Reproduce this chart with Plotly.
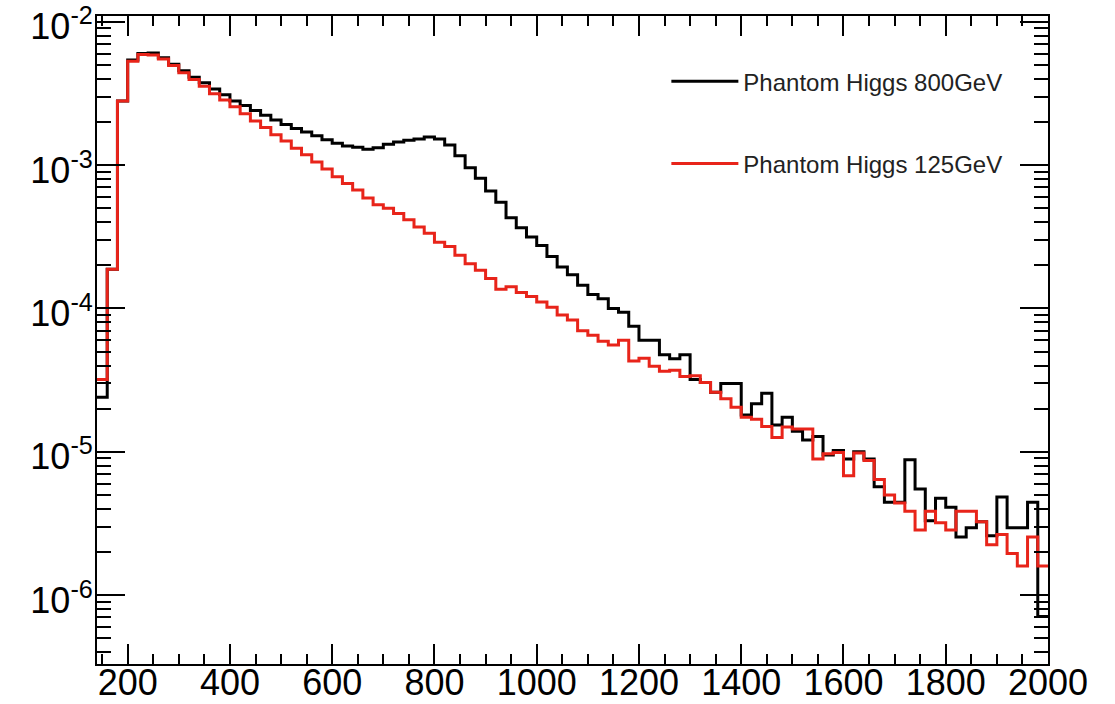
import plotly.graph_objects as go

# Histogram binning (GeV): 20 GeV bins from 140 to 2000
bin_edges = list(range(140, 2001, 20))

series_names = ["Phantom Higgs 800GeV", "Phantom Higgs 125GeV"]

# Phantom Higgs 800GeV (black)
higgs800 = [
    2.4e-5, 1.88e-4, 2.8e-3, 5.4e-3, 6.0e-3, 6.05e-3, 5.6e-3, 5.05e-3, 4.55e-3, 4.1e-3,
    3.75e-3, 3.4e-3, 3.1e-3, 2.8e-3, 2.6e-3, 2.4e-3, 2.23e-3, 2.06e-3, 1.92e-3, 1.8e-3,
    1.7e-3, 1.6e-3, 1.5e-3, 1.42e-3, 1.36e-3, 1.33e-3, 1.29e-3, 1.32e-3, 1.4e-3, 1.45e-3,
    1.49e-3, 1.52e-3, 1.57e-3, 1.52e-3, 1.38e-3, 1.16e-3, 9.6e-4, 8.1e-4, 6.6e-4,
    5.5e-4, 4.3e-4, 3.65e-4, 3.15e-4, 2.75e-4, 2.3e-4, 1.95e-4, 1.72e-4, 1.45e-4, 1.25e-4,
    1.17e-4, 1.0e-4, 9.4e-5, 7.5e-5, 6.0e-5, 6.0e-5, 4.75e-5, 4.45e-5, 4.75e-5, 3.2e-5,
    3.05e-5, 2.6e-5, 3.0e-5, 3.0e-5, 1.81e-5, 2.16e-5, 2.56e-5, 1.54e-5, 1.74e-5, 1.39e-5,
    1.21e-5, 1.28e-5, 9.5e-6, 1.02e-5, 8.9e-6, 1.0e-5, 8.9e-6, 5.7e-6, 4.45e-6, 4.45e-6,
    8.8e-6, 5.5e-6, 3.3e-6, 4.75e-6, 4.1e-6, 2.55e-6, 2.95e-6, 3.25e-6, 2.6e-6, 4.85e-6,
    2.95e-6, 2.95e-6, 4.45e-6, 7.1e-7,
]

# Phantom Higgs 125GeV (red)
higgs125 = [
    3.2e-5, 1.88e-4, 2.8e-3, 5.3e-3, 5.9e-3, 5.85e-3, 5.5e-3, 4.95e-3, 4.4e-3, 3.95e-3,
    3.55e-3, 3.15e-3, 2.85e-3, 2.55e-3, 2.28e-3, 2.03e-3, 1.83e-3, 1.63e-3, 1.47e-3, 1.31e-3,
    1.18e-3, 1.05e-3, 9.4e-4, 8.3e-4, 7.45e-4, 6.7e-4, 5.9e-4, 5.3e-4, 5.0e-4, 4.6e-4,
    4.15e-4, 3.7e-4, 3.35e-4, 2.9e-4, 2.7e-4, 2.35e-4, 2.05e-4, 1.85e-4, 1.62e-4, 1.36e-4,
    1.42e-4, 1.29e-4, 1.21e-4, 1.11e-4, 1.02e-4, 9.0e-5, 8.3e-5, 7.0e-5, 6.5e-5, 5.9e-5,
    5.55e-5, 6.0e-5, 4.3e-5, 4.5e-5, 3.95e-5, 3.65e-5, 3.7e-5, 3.35e-5, 3.4e-5, 3.05e-5,
    2.6e-5, 2.35e-5, 2.05e-5, 1.74e-5, 1.69e-5, 1.5e-5, 1.26e-5, 1.49e-5, 1.44e-5, 1.44e-5,
    8.9e-6, 9.7e-6, 9.9e-6, 6.8e-6, 9.8e-6, 8.7e-6, 6.4e-6, 5.0e-6, 4.4e-6, 3.85e-6,
    2.85e-6, 3.85e-6, 3.2e-6, 2.85e-6, 3.85e-6, 3.85e-6, 3.25e-6, 2.25e-6, 2.65e-6, 1.95e-6,
    1.6e-6, 2.55e-6, 1.6e-6,
]

x_tick_vals = [200, 400, 600, 800, 1000, 1200, 1400, 1600, 1800, 2000]
x_tick_text = ["200", "400", "600", "800", "1000", "1200", "1400", "1600", "1800", "2000"]
y_tick_vals = [1e-6, 1e-5, 1e-4, 1e-3, 1e-2]
y_tick_text = ["10<sup>-6</sup>", "10<sup>-5</sup>", "10<sup>-4</sup>", "10<sup>-3</sup>", "10<sup>-2</sup>"]

colors = ["#000000", "rgb(232,36,26)"]


def step_xy(values):
    # histogram outline: left edges + final right edge, drawn with hv steps
    n = min(len(values), len(bin_edges) - 1)
    xs = bin_edges[:n] + [bin_edges[n]]
    ys = list(values[:n]) + [values[n - 1]]
    return xs, ys


fig = go.Figure()
for i, (name, vals) in enumerate(zip(series_names, [higgs800, higgs125])):
    xs, ys = step_xy(vals)
    fig.add_trace(go.Scatter(
        x=xs, y=ys, mode="lines", name=name,
        line=dict(color=colors[i], width=3, shape="hv"),
        legendgroup=f"g{i}",
    ))

font_family = "Liberation Sans, Arial, Helvetica, sans-serif"

y_minor = [m * 10.0 ** e for e in range(-7, -1) for m in range(2, 10)]

fig.update_layout(
    width=1115, height=704,
    margin=dict(l=97, r=67, t=16, b=40, autoexpand=False),
    paper_bgcolor="white", plot_bgcolor="white",
    font=dict(family=font_family, color="black"),
    showlegend=True,
    legend=dict(
        x=0.5987, y=0.9335, xanchor="left", yanchor="top",
        bgcolor="rgba(0,0,0,0)", borderwidth=0,
        font=dict(size=24, color="#222222", family=font_family),
        itemwidth=67, tracegroupgap=48,
    ),
    xaxis=dict(
        range=[140, 2000], showgrid=False, zeroline=False,
        showline=True, linecolor="black", linewidth=2, mirror="ticks",
        ticks="inside", ticklen=20, tickwidth=2, tickcolor="black",
        tickmode="array", tickvals=x_tick_vals, ticktext=x_tick_text,
        tickfont=dict(size=36, color="black"),
        minor=dict(ticks="inside", ticklen=10, tickwidth=2, tickcolor="black",
                   dtick=50, tick0=0, showgrid=False),
        automargin=False, ticklabelstandoff=-14, ticklabeloverflow="allow",
    ),
    yaxis=dict(
        type="log", range=[-6.48, -1.96], showgrid=False, zeroline=False,
        showline=True, linecolor="black", linewidth=2, mirror="ticks",
        ticks="inside", ticklen=28, tickwidth=2, tickcolor="black",
        tickmode="array", tickvals=y_tick_vals, ticktext=y_tick_text,
        tickfont=dict(size=36, color="black"),
        minor=dict(ticks="inside", ticklen=14, tickwidth=2, tickcolor="black",
                   tickmode="array", tickvals=y_minor, showgrid=False),
        automargin=False, ticklabelstandoff=-5, ticklabelshift=5,
        ticklabeloverflow="allow",
    ),
)

fig.write_html("out.html", config={"displayModeBar": False},
               post_script="document.body.style.margin='0px';")
